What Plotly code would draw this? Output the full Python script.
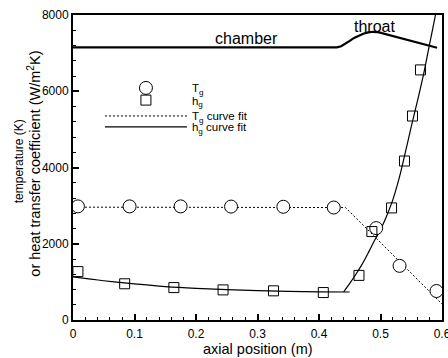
import plotly.graph_objects as go

# ---- data ----
tg_x = [0.008, 0.092, 0.175, 0.257, 0.342, 0.424, 0.493, 0.531, 0.591]
tg_y = [2980, 2980, 2980, 2975, 2970, 2950, 2410, 1420, 760]

hg_x = [0.008, 0.084, 0.164, 0.244, 0.326, 0.407, 0.465, 0.486, 0.518, 0.539, 0.552, 0.565]
hg_y = [1270, 950, 850, 790, 765, 720, 1170, 2320, 2940, 4170, 5350, 6560]

tfit_x = [0.0, 0.443, 0.6]
tfit_y = [2960, 2950, 420]

hfit_low_x = [0.0, 0.05, 0.1, 0.15, 0.2, 0.25, 0.3, 0.35, 0.4, 0.45]
hfit_low_y = [1130, 1030, 945, 875, 828, 795, 770, 752, 740, 735]

hfit_rise_x = [0.44, 0.45, 0.46, 0.47, 0.48, 0.49, 0.50, 0.51, 0.52, 0.53, 0.54, 0.55,
               0.56, 0.57, 0.58, 0.59, 0.60]
hfit_rise_y = [735, 960, 1200, 1460, 1760, 2080, 2370, 2730, 3150, 3700, 4370, 5070,
               5740, 6440, 7250, 8050, 8900]

wall_x = [0.0, 0.429, 0.436, 0.443, 0.450, 0.457, 0.464, 0.472, 0.480, 0.488, 0.496, 0.592]
wall_y = [7150, 7150, 7180, 7240, 7320, 7400, 7460, 7510, 7545, 7560, 7550, 7140]

x_ticks = [0, 0.1, 0.2, 0.3, 0.4, 0.5, 0.6]
x_tick_text = ["0", "0.1", "0.2", "0.3", "0.4", "0.5", "0.6"]
y_ticks = [0, 2000, 4000, 6000, 8000]
y_tick_text = ["0", "2000", "4000", "6000", "8000"]

FONT = "Liberation Sans, Arial, sans-serif"

fig = go.Figure()

fig.add_trace(go.Scatter(x=wall_x, y=wall_y, mode="lines", line=dict(color="black", width=2.2),
                         showlegend=False, hoverinfo="skip"))
fig.add_trace(go.Scatter(x=tfit_x, y=tfit_y, mode="lines", name="T<sub>g</sub> curve fit",
                         line=dict(color="black", width=1, dash="2px,2px"), legend="legend3"))
fig.add_trace(go.Scatter(x=hfit_low_x, y=hfit_low_y, mode="lines", name="h<sub>g</sub> curve fit",
                         line=dict(color="black", width=1.2), line_shape="spline", legend="legend4"))
fig.add_trace(go.Scatter(x=hfit_rise_x, y=hfit_rise_y, mode="lines", showlegend=False,
                         line=dict(color="black", width=1.2), line_shape="spline"))
fig.add_trace(go.Scatter(x=tg_x, y=tg_y, mode="markers", name="T<sub>g</sub>",
                         marker=dict(symbol="circle", size=13, color="white",
                                     line=dict(color="black", width=1)), legend="legend"))
fig.add_trace(go.Scatter(x=hg_x, y=hg_y, mode="markers", name="h<sub>g</sub>",
                         marker=dict(symbol="square", size=10, color="rgba(255,255,255,0)",
                                     line=dict(color="black", width=1)), legend="legend2"))

fig.add_annotation(x=0.282, y=7390, text="chamber", showarrow=False,
                   font=dict(family=FONT, size=16, color="black"))
fig.add_annotation(x=0.491, y=7700, text="throat", showarrow=False,
                   font=dict(family=FONT, size=16, color="black"))

# axis titles as annotations
fig.add_annotation(xref="paper", yref="paper", x=-0.144, y=0.52, xanchor="center", yanchor="middle",
                   textangle=-90, showarrow=False, text="temperature (K)",
                   font=dict(family=FONT, size=12, color="black"))
fig.add_annotation(xref="paper", yref="paper", x=-0.108, y=0.513, xanchor="center", yanchor="middle",
                   textangle=-90, showarrow=False,
                   text="or heat transfer coefficient (W/m<sup>2</sup>K)",
                   font=dict(family=FONT, size=14.5, color="black"))
fig.add_annotation(xref="paper", yref="paper", x=0.5, y=-0.094, xanchor="center", yanchor="middle",
                   showarrow=False, text="axial position (m)",
                   font=dict(family=FONT, size=14.5, color="black"))

axis_common = dict(showline=True, linewidth=2, linecolor="black", mirror=True,
                   ticks="inside", ticklen=6, tickwidth=1.5, tickcolor="black",
                   showgrid=False, zeroline=False, automargin=False,
                   tickfont=dict(family=FONT, size=12, color="black"))

fig.update_xaxes(range=[0, 0.6], tickvals=x_ticks, ticktext=x_tick_text,
                 minor=dict(dtick=0.02, ticks="inside", ticklen=3, tickwidth=1, tickcolor="black"),
                 ticklabelstandoff=2, ticklabeloverflow="allow",
                 **axis_common)
fig.update_yaxes(range=[0, 8000], tickvals=y_ticks, ticktext=y_tick_text,
                 minor=dict(dtick=400, ticks="inside", ticklen=3, tickwidth=1, tickcolor="black"),
                 **axis_common)

leg_common = dict(x=0.073, xanchor="left", yanchor="middle", bgcolor="rgba(0,0,0,0)",
                  borderwidth=0, font=dict(family=FONT, size=11.5, color="black"),
                  itemwidth=82)
fig.update_layout(
    width=448, height=358,
    margin=dict(l=73, r=6, t=15, b=38),
    paper_bgcolor="white", plot_bgcolor="white",
    showlegend=True,
    legend=dict(y=0.761, **leg_common),
    legend2=dict(y=0.721, **leg_common),
    legend3=dict(y=0.669, **leg_common),
    legend4=dict(y=0.633, **leg_common),
)

fig.write_html("out.html")
